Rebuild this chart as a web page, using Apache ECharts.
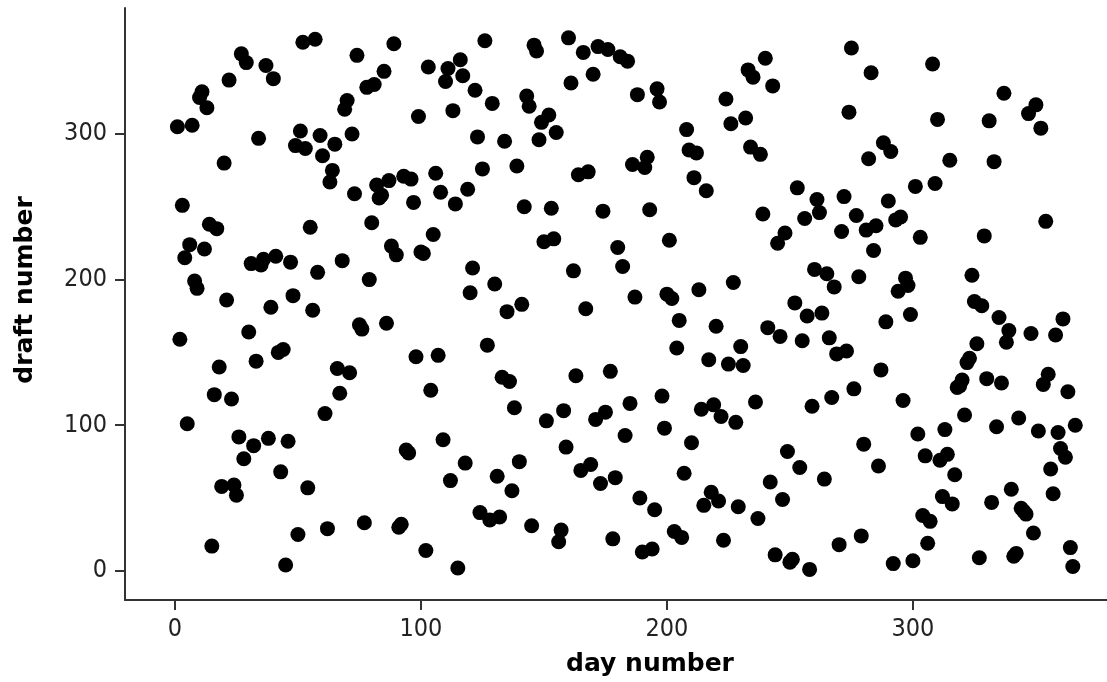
<!DOCTYPE html>
<html>
<head>
<meta charset="utf-8">
<title>Draft lottery</title>
<script src="https://cdn.jsdelivr.net/npm/echarts@6/dist/echarts.min.js"></script>
<style>
  html, body { margin: 0; padding: 0; background: #fff; }
  #chart { width: 1107px; height: 682px; }
</style>
</head>
<body>
<div id="chart"></div>
<script>
// Draft number drawn for each birthday, listed month by month (Jan 1 .. Dec 31, leap year).
const jan = [305,159,251,215,101,224,306,199,194,325,329,221,318,238,17,121,235,140,58,280,186,337,118,59,52,92,355,77,349,164,211];
const feb = [86,144,297,210,214,347,91,181,338,216,150,68,152,4,89,212,189,292,25,302,363,290,57,236,179,365,205,299,285];
const mar = [108,29,267,275,293,139,122,213,317,323,136,300,259,354,169,166,33,332,200,239,334,265,256,258,343,170,268,223,362,217,30];
const apr = [32,271,83,81,269,253,147,312,219,218,14,346,124,231,273,148,260,90,336,345,62,316,252,2,351,340,74,262,191,208];
const may = [330,298,40,276,364,155,35,321,197,65,37,133,295,178,130,55,112,278,75,183,250,326,319,31,361,357,296,308,226,103,313];
const jun = [249,228,301,20,28,110,85,366,335,206,134,272,69,356,180,274,73,341,104,360,60,247,109,358,137,22,64,222,353,209];
const jul = [93,350,115,279,188,327,50,13,277,284,248,15,42,331,322,120,98,190,227,187,27,153,172,23,67,303,289,88,270,287,193];
const aug = [111,45,261,145,54,114,168,48,106,21,324,142,307,198,102,44,154,141,311,344,291,339,116,36,286,245,352,167,61,333,11];
const sep = [225,161,49,232,82,6,8,184,263,71,158,242,175,1,113,207,255,246,177,63,204,160,119,195,149,18,233,257,151,315];
const oct = [359,125,244,202,24,87,234,283,342,220,237,72,138,294,171,254,288,5,241,192,243,117,201,196,176,7,264,94,229,38,79];
const nov = [19,34,348,266,310,76,51,97,80,282,46,66,126,127,131,107,143,146,203,185,156,9,182,230,132,309,47,281,99,174];
const dec = [129,328,157,165,56,10,12,105,43,41,39,314,163,26,320,96,304,128,240,135,70,53,162,95,84,173,78,123,16,3,100];

const xTicks = [0, 100, 200, 300];
const yTicks = [0, 100, 200, 300];
const xTitle = 'day number';
const yTitle = 'draft number';

const draftNumbers = [].concat(jan, feb, mar, apr, may, jun, jul, aug, sep, oct, nov, dec);
// day number is the position in the year, starting at 1
const points = draftNumbers.map((d, i) => [i + 1, d]);

const labelFont = "'DejaVu Sans Condensed', 'Liberation Sans', sans-serif";
const titleFont = "'DejaVu Sans', Verdana, sans-serif";
const axisColor = '#333';

const chart = echarts.init(document.getElementById('chart'), null, { renderer: 'canvas' });
chart.setOption({
  animation: false,
  backgroundColor: '#fff',
  grid: { left: 125, right: 0, top: 8, bottom: 82, containLabel: false },
  xAxis: {
    type: 'value',
    min: -20.3,
    max: 378.9,
    name: xTitle,
    nameLocation: 'middle',
    nameGap: 52,
    nameTextStyle: { fontFamily: titleFont, fontWeight: 'bold', fontSize: 25, color: '#000', padding: [0, 0, 0, 68] },
    splitLine: { show: false },
    axisLine: { show: true, onZero: false, lineStyle: { color: axisColor, width: 2 } },
    axisTick: { show: true, length: 10, customValues: xTicks, lineStyle: { color: axisColor, width: 2 } },
    axisLabel: { customValues: xTicks, margin: 17, fontFamily: labelFont, fontSize: 25, color: '#222' }
  },
  yAxis: {
    type: 'value',
    min: -20,
    max: 386.5,
    name: yTitle,
    nameLocation: 'middle',
    nameRotate: 90,
    nameGap: 87,
    nameTextStyle: { fontFamily: titleFont, fontWeight: 'bold', fontSize: 25, color: '#000', padding: [0, 0, 0, 28] },
    splitLine: { show: false },
    axisLine: { show: true, onZero: false, lineStyle: { color: axisColor, width: 2 } },
    axisTick: { show: true, length: 10, customValues: yTicks, lineStyle: { color: axisColor, width: 2 } },
    axisLabel: { customValues: yTicks, margin: 18, fontFamily: labelFont, fontSize: 25, color: '#222' }
  },
  series: [{
    type: 'scatter',
    data: points,
    symbol: 'circle',
    symbolSize: 15,
    itemStyle: { color: '#000', opacity: 1 },
    clip: false
  }]
});
</script>
</body>
</html>
